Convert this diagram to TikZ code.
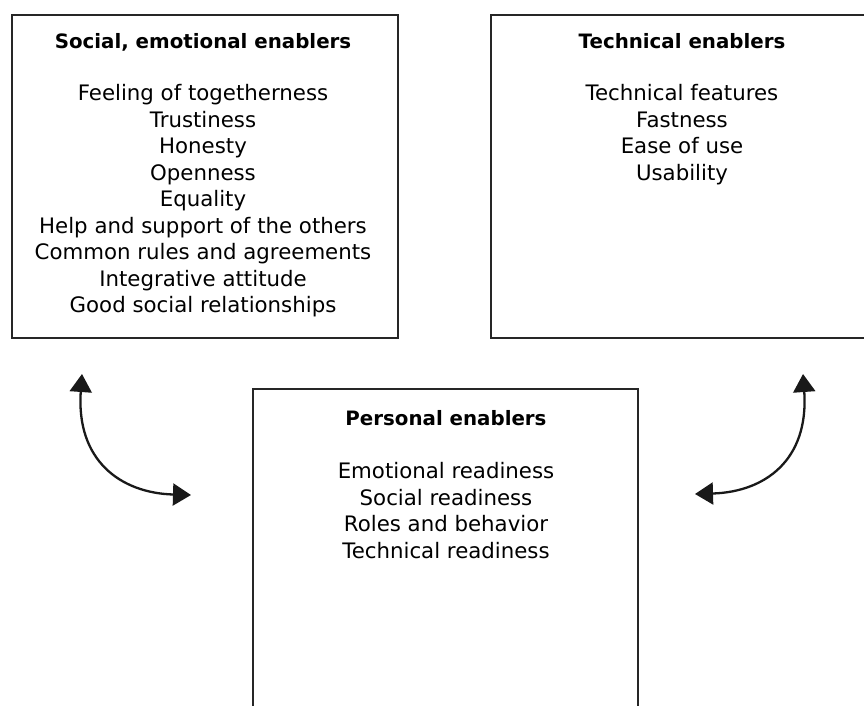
\documentclass[tikz,border=0pt]{standalone}
\usepackage{fontspec}
\setmainfont{DejaVu Sans}
\usetikzlibrary{arrows.meta}
\begin{document}
\begin{tikzpicture}[x=1pt,y=-1pt,
  panel/.style={draw=black!85, line width=2.2pt, rectangle, inner sep=0pt, anchor=north west},
  title/.style={font=\fontsize{19.8}{26.5}\selectfont\bfseries, inner sep=0pt, anchor=base},
  items/.style={font=\fontsize{21.3}{26.5}\selectfont, align=center, inner sep=0pt, anchor=north},
  link/.style={line width=2.3pt, black!90, {Triangle[width=22pt,length=18pt]}-{Triangle[width=22pt,length=18pt]}}]
\useasboundingbox (0,0) rectangle (864,705);
\clip (0,0) rectangle (864,705);
% boxes
\node[panel, minimum width=386pt, minimum height=323pt] (social) at (11,14) {};
\node[panel, minimum width=386pt, minimum height=323pt] (tech) at (490,14) {};
\node[panel, minimum width=385pt, minimum height=340pt] (pers) at (252,388) {};
% titles
\node[title] (socialt) at (203,48.5) {Social, emotional enablers};
\node[title] (techt) at (682,48.5) {Technical enablers};
\node[title] (perst) at (446,425) {Personal enablers};
% items
\node[items] (socialitems) at (203,84.5) {Feeling of togetherness\\Trustiness\\Honesty\\Openness\\Equality\\Help and support of the others\\Common rules and agreements\\Integrative attitude\\Good social relationships};
\node[items] (techitems) at (682,84.5) {Technical features\\Fastness\\Ease of use\\Usability};
\node[items] (persitems) at (446,462.5) {Emotional readiness\\Social readiness\\Roles and behavior\\Technical readiness};
% connectors
\coordinate (l1) at (82,374);
\coordinate (l2) at (191,495);
\coordinate (r1) at (803,374);
\coordinate (r2) at (695,494);
\draw[link] (l1) .. controls (76,460) and (120,493) .. (l2);
\draw[link] (r1) .. controls (809,460) and (765,492) .. (r2);
\end{tikzpicture}
\end{document}
